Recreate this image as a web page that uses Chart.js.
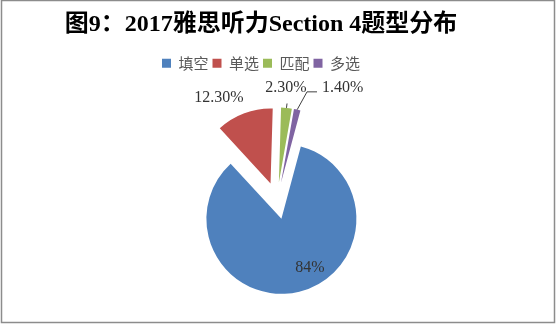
<!DOCTYPE html>
<html lang="zh-CN">
<head>
<meta charset="UTF-8">
<title>2017雅思听力Section 4题型分布</title>
<script src="https://cdn.jsdelivr.net/npm/chart.js"></script>
<style>
  html, body { margin: 0; padding: 0; background: #fff; }
  #wrap { width: 556px; height: 324px; }
</style>
</head>
<body>
<div id="wrap"><canvas id="pieChart" width="556" height="324"></canvas></div>
<script>
// chart data
const categories = ["填空", "单选", "匹配", "多选"];
const shares = [84, 12.3, 2.3, 1.4];
const valueLabels = ["84%", "12.30%", "2.30%", "1.40%"];
const sliceColors = ["#4F81BD", "#C0504D", "#9BBB59", "#8064A2"];

// where each value label sits: direction (deg clockwise from top) and distance (x radius)
const labelSpots = [[149.5, 0.75], [328.8, 1.33], [4.3, 1.27], [33, 1.51]];

// pull every slice away from the centre along its middle angle
const explodePlugin = {
  id: "explode",
  afterDatasetUpdate(chart, args) {
    const dist = 18.5;
    chart.getDatasetMeta(args.index).data.forEach(arc => {
      const mid = (arc.startAngle + arc.endAngle) / 2;
      arc.x += Math.cos(mid) * dist;
      arc.y += Math.sin(mid) * dist;
    });
  }
};

// pie sits a little right of the title/legend in the original
const shiftPlugin = {
  id: "shiftArea",
  afterLayout(chart) {
    chart.chartArea.left += 16;
    chart.chartArea.right += 16;
  }
};

// white background + grey frame
const framePlugin = {
  id: "frame",
  beforeDraw(chart) {
    const ctx = chart.ctx;
    ctx.save();
    ctx.fillStyle = "#fff";
    ctx.fillRect(0, 0, chart.width, chart.height);
    ctx.strokeStyle = "#8c8c8c";
    ctx.lineWidth = 1.5;
    ctx.strokeRect(1.5, 0.5, chart.width - 3, chart.height - 2);
    ctx.restore();
  }
};

function polar(arc, deg, dist) {
  const a = (deg - 90) * Math.PI / 180;
  return { x: arc.x + Math.cos(a) * dist, y: arc.y + Math.sin(a) * dist };
}

// value labels with leader lines for the two thin slices
const labelPlugin = {
  id: "valueLabels",
  afterDatasetsDraw(chart) {
    const ctx = chart.ctx;
    const arcs = chart.getDatasetMeta(0).data;
    ctx.save();
    ctx.font = '16px "Liberation Serif", serif';
    ctx.fillStyle = "#333";
    ctx.strokeStyle = "#404040";
    ctx.lineWidth = 1;
    ctx.textAlign = "center";
    ctx.textBaseline = "middle";
    arcs.forEach((arc, i) => {
      const R = arc.outerRadius;
      const [deg, f] = labelSpots[i];
      const p = polar(arc, deg, R * f);
      ctx.fillText(valueLabels[i], p.x, p.y);

      const midDeg = ((arc.startAngle + arc.endAngle) / 2) * 180 / Math.PI + 90;
      const edge = polar(arc, midDeg, R);
      if (i === 2) {
        ctx.beginPath();
        ctx.moveTo(edge.x, edge.y);
        ctx.lineTo(p.x + 1, p.y + 16);
        ctx.stroke();
      }
      if (i === 3) {
        const left = p.x - ctx.measureText(valueLabels[i]).width / 2;
        ctx.beginPath();
        ctx.moveTo(edge.x, edge.y);
        ctx.lineTo(left - 15, p.y + 4);
        ctx.lineTo(left - 5, p.y + 4);
        ctx.stroke();
      }
    });
    ctx.restore();
  }
};

new Chart(document.getElementById("pieChart"), {
  type: "pie",
  data: {
    labels: categories,
    datasets: [{
      data: shares,
      backgroundColor: sliceColors,
      borderWidth: 0,
      radius: 75,
      clip: false
    }]
  },
  options: {
    responsive: false,
    animation: false,
    devicePixelRatio: 1,
    rotation: 15,
    layout: { padding: { right: 34, bottom: 3 } },
    plugins: {
      title: {
        display: true,
        text: "图9：2017雅思听力Section 4题型分布",
        color: "#000",
        font: { family: '"Liberation Serif", "Noto Sans CJK SC", serif', size: 24, weight: "bold" },
        padding: { top: 10, bottom: 13 }
      },
      legend: {
        position: "top",
        labels: {
          boxWidth: 9,
          boxHeight: 9,
          padding: 4,
          color: "#595959",
          font: { family: '"Noto Sans CJK SC", sans-serif', size: 15 }
        }
      },
      tooltip: { enabled: false }
    }
  },
  plugins: [framePlugin, shiftPlugin, explodePlugin, labelPlugin]
});
</script>
</body>
</html>
